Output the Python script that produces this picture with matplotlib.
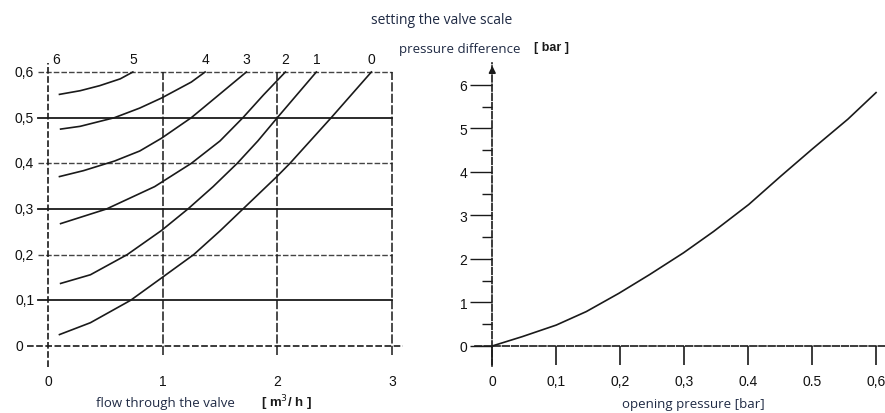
import numpy as np
import matplotlib.pyplot as plt

# ================= DATA =================

# left chart: pressure difference [bar] vs flow [m3/h] for valve settings 0..5
setting_labels = ["0", "1", "2", "3", "4", "5"]
flow_0 = [0.1, 0.37, 0.72, 0.99, 1.27, 1.5, 1.70, 2.0, 2.11, 2.47, 2.82]
dp_0 = [0.025, 0.051, 0.1, 0.149, 0.2, 0.252, 0.3, 0.372, 0.4, 0.5, 0.6]
flow_1 = [0.11, 0.37, 0.69, 0.99, 1.22, 1.44, 1.65, 1.83, 2.0, 2.34]
dp_1 = [0.137, 0.156, 0.2, 0.253, 0.3, 0.349, 0.4, 0.449, 0.5, 0.6]
flow_2 = [0.11, 0.51, 0.93, 1.25, 1.5, 1.70, 1.88, 2.07]
dp_2 = [0.268, 0.3, 0.349, 0.4, 0.449, 0.5, 0.55, 0.6]
flow_3 = [0.1, 0.31, 0.58, 0.8, 0.99, 1.25, 1.5, 1.73]
dp_3 = [0.371, 0.384, 0.405, 0.427, 0.455, 0.5, 0.552, 0.6]
flow_4 = [0.11, 0.28, 0.58, 0.8, 0.99, 1.25, 1.37]
dp_4 = [0.475, 0.481, 0.5, 0.521, 0.543, 0.578, 0.6]
flow_5 = [0.1, 0.28, 0.45, 0.63, 0.74]
dp_5 = [0.551, 0.559, 0.57, 0.585, 0.6]

left_yticks = [0, 0.1, 0.2, 0.3, 0.4, 0.5, 0.6]
left_ylabels = ["0", "0,1", "0,2", "0,3", "0,4", "0,5", "0,6"]
left_xticks = [0, 1, 2, 3]

# right chart: pressure difference vs opening pressure
open_p = [0, 0.047, 0.1, 0.147, 0.198, 0.246, 0.299, 0.346, 0.401, 0.451, 0.5, 0.556, 0.6]
diff_p = [0, 0.215, 0.48, 0.79, 1.21, 1.64, 2.14, 2.63, 3.25, 3.9, 4.52, 5.21, 5.82]
right_xticks = [0, 0.1, 0.2, 0.3, 0.4, 0.5, 0.6]
right_xlabels = ["0", "0,1", "0,2", "0,3", "0.4", "0.5", "0,6"]
right_yticks = [0, 1, 2, 3, 4, 5, 6]

ink = "#1a1a1a"
txt = "#1f2a44"
tick_font = dict(family="Liberation Sans", fontsize=10, color="#111111")

fig = plt.figure(figsize=(8.85, 4.14), dpi=100)
fig.patch.set_facecolor("white")

# ================= LEFT CHART =================

ax1 = fig.add_axes([48 / 885, 67 / 414, 344 / 885, 274 / 414])
ax1.set_xlim(0, 3)
ax1.set_ylim(0, 0.6)
ax1.axis("off")

# horizontal grid
for y in left_yticks[1:]:
    solid = y in (0.1, 0.3, 0.5)
    ax1.plot([-0.09, 3.0], [y, y], color=ink if solid else "#444444",
             lw=1.3 if solid else 1.0, ls="-" if solid else (0, (4, 1.5)), clip_on=False)
# vertical grid
for x in left_xticks[1:]:
    ax1.plot([x, x], [-0.02, 0.6], color=ink, lw=1.1, ls=(0, (6, 1.5)), clip_on=False)

# axes with arrows
ax1.plot([-0.18, 3.1], [0, 0], color=ink, lw=1.2, ls=(0, (4, 1.5)), clip_on=False)
ax1.annotate("", xy=(3.15, 0), xytext=(3.05, 0),
             arrowprops=dict(arrowstyle="-|>", color=ink, lw=1.2, mutation_scale=12))
ax1.plot([0, 0], [-0.045, 0.62], color=ink, lw=1.2, ls=(0, (4, 1.5)), clip_on=False)
ax1.annotate("", xy=(0, 0.635), xytext=(0, 0.6),
             arrowprops=dict(arrowstyle="-|>", color=ink, lw=1.2, mutation_scale=10))

curves = [(flow_0, dp_0), (flow_1, dp_1), (flow_2, dp_2),
          (flow_3, dp_3), (flow_4, dp_4), (flow_5, dp_5)]
for lab, (fx, fy) in zip(setting_labels, curves):
    ax1.plot(fx, fy, color=ink, lw=1.2, clip_on=False, solid_joinstyle="round")
    ax1.text(fx[-1], 0.628, lab, ha="center", va="center", **tick_font)
ax1.text(0.07, 0.628, "6", ha="center", va="center", **tick_font)

for y, lab in zip(left_yticks, left_ylabels):
    xpos = -0.22 if y == 0 else -0.12
    ax1.text(xpos, y, lab, ha="right", va="center", **tick_font)
for x in left_xticks:
    ax1.text(x, -0.077, str(x), ha="center", va="center", **tick_font)

fig.text(165 / 885, 1 - 404 / 414, "flow through the valve", ha="center", va="center",
         family="Open Sans", fontsize=9.5, color=txt)
fig.text(287 / 885, 1 - 403 / 414, "[ m$^3$/ h ]", ha="center", va="center",
         family="Liberation Sans", fontsize=9.5, weight="bold", color=ink)

# ================= RIGHT CHART =================

ax2 = fig.add_axes([475 / 885, 47 / 414, 410 / 885, 303 / 414])
ax2.set_xlim(-0.027, 0.614)
ax2.set_ylim(-0.46, 6.5)
ax2.set_facecolor("none")
for s in ("top", "right"):
    ax2.spines[s].set_visible(False)
ax2.spines["left"].set_position(("data", 0))
ax2.spines["bottom"].set_position(("data", 0))
for s in ("left", "bottom"):
    ax2.spines[s].set_color(ink)
    ax2.spines[s].set_linewidth(1.2)
    ax2.spines[s].set_linestyle((0, (4, 1.5)))

ax2.plot(open_p, diff_p, color=ink, lw=1.2, solid_joinstyle="round")
ax2.annotate("", xy=(0, 6.5), xytext=(0, 6.2),
             arrowprops=dict(arrowstyle="-|>", color=ink, lw=1.2, mutation_scale=10))

ax2.set_xticks(right_xticks)
ax2.set_xticklabels(right_xlabels)
ax2.set_yticks(right_yticks)
ax2.set_yticks(np.array(right_yticks[:-1]) + 0.5, minor=True)
ax2.tick_params(axis="x", direction="out", length=14, width=1.2, color=ink, pad=6)
ax2.tick_params(axis="y", which="major", direction="out", length=16, width=1.0, color=ink, pad=2)
ax2.tick_params(axis="y", which="minor", direction="out", length=7, width=1.0, color=ink)
for lab in ax2.get_xticklabels() + ax2.get_yticklabels():
    lab.set_family("Liberation Sans")
    lab.set_fontsize(10)
    lab.set_color("#111111")

fig.text(460 / 885, 1 - 50 / 414, "pressure difference", ha="center", va="center",
         family="Open Sans", fontsize=9.5, color=txt)
fig.text(552 / 885, 1 - 48 / 414, "[ bar ]", ha="center", va="center",
         family="Liberation Sans", fontsize=9, weight="bold", color=ink)
fig.text(693 / 885, 1 - 405 / 414, "opening pressure [bar]", ha="center", va="center",
         family="Open Sans", fontsize=9.5, color=txt)

fig.text(442 / 885, 1 - 21 / 414, "setting the valve scale", ha="center", va="center",
         family="Open Sans", fontsize=10, color=txt)

fig.savefig("out.png", dpi=100)
